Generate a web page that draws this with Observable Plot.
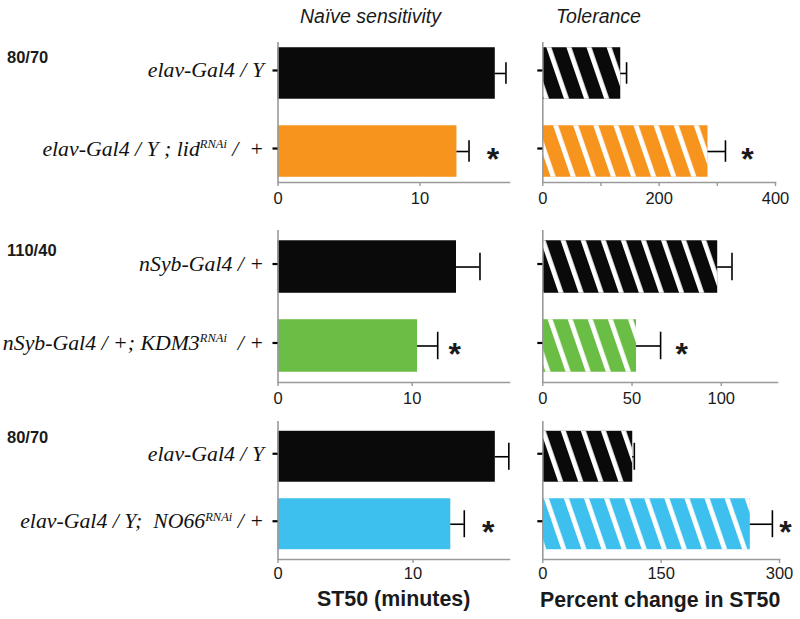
<!DOCTYPE html>
<html>
<head>
<meta charset="utf-8">
<script src="https://cdn.jsdelivr.net/npm/d3@7"></script>
<script src="https://cdn.jsdelivr.net/npm/@observablehq/plot@0.6"></script>
<style>
  html, body { margin: 0; padding: 0; background: #fff; }
  #wrap { position: relative; width: 800px; height: 619px; background: #fff; overflow: hidden; font-family: "Liberation Sans", Arial, sans-serif; }
  #wrap > svg.plotcell { position: absolute; }
  #overlay { position: absolute; left: 0; top: 0; pointer-events: none; }
</style>
</head>
<body>
<div id="wrap"></div>
<script>
// ---------------- DATA ----------------
// superscript parts are written in [brackets]
const genotypesA = ["elav-Gal4 / Y", "elav-Gal4 / Y ; lid[RNAi] /\u00a0 +"];
const genotypesB = ["nSyb-Gal4 / +", "nSyb-Gal4 / +; KDM3[RNAi] \u00a0/ +"];
const genotypesC = ["elav-Gal4 / Y", "elav-Gal4 / Y;\u00a0 NO66[RNAi] / +"];

const colorsA = ["#0a0a0a", "#f7941d"];
const colorsB = ["#0a0a0a", "#6abd45"];
const colorsC = ["#0a0a0a", "#3dc0ee"];

const sigA = [false, true];
const sigB = [false, true];
const sigC = [false, true];

// Naive sensitivity: ST50 (minutes)
const naiveA = [15.3, 12.6];   const naiveErrA = [0.75, 0.85];
const naiveB = [13.3, 10.4];   const naiveErrB = [1.75, 1.5];
const naiveC = [16.1, 12.8];   const naiveErrC = [1.0, 1.0];

// Tolerance: percent change in ST50
const tolA = [134, 284];       const tolErrA = [10, 30];
const tolB = [98, 52.5];       const tolErrB = [8, 13.5];
const tolC = [114, 263];       const tolErrC = [2, 28];

// axis settings
const naiveMax = [16.3, 17.25, 17.15];
const naiveTicks = [[0, 10], [0, 10], [0, 10]];
const tolMax = [400, 131.5, 300];
const tolTicks = [[0, 100, 200, 300, 400], [0, 50, 100], [0, 150, 300]];
const tolTickLabels = [[0, 200, 400], [0, 50, 100], [0, 150, 300]];

const rowLabels = ["80/70", "110/40", "80/70"];
const columnTitles = ["Naïve sensitivity", "Tolerance"];
const axisTitles = ["ST50 (minutes)", "Percent change in ST50"];

// ---------------- LAYOUT ----------------
const rows = [
  {top: 0,   mT: 42, frameBottom: 182, pInner: 0.34,  pOuter: 0.067, cap: 15,   tickPad: 5.5},
  {top: 210, mT: 20, frameBottom: 172, pInner: 0.335, pOuter: 0.13,  cap: 12.5, tickPad: 6},
  {top: 400, mT: 21, frameBottom: 159, pInner: 0.245, pOuter: 0.145, cap: 12,   tickPad: 3.5}
];
const mB = 30;
const wrap = document.getElementById("wrap");
const NS = "http://www.w3.org/2000/svg";

function supify(svg) {
  svg.querySelectorAll('g[aria-label="y-axis tick label"] text').forEach(t => {
    const s = t.textContent;
    if (!s.includes("[")) return;
    t.textContent = "";
    const parts = s.split(/(\[[^\]]*\])/).filter(p => p);
    let raised = false;
    parts.forEach(p => {
      const ts = document.createElementNS(NS, "tspan");
      if (p.startsWith("[")) {
        ts.textContent = p.slice(1, -1);
        ts.setAttribute("font-size", "12.5");
        ts.setAttribute("dy", "-7.5");
        raised = true;
      } else {
        ts.textContent = p;
        if (raised) { ts.setAttribute("dy", "7.5"); raised = false; }
      }
      t.appendChild(ts);
    });
  });
}

function addHatch(svg, id) {
  const defs = document.createElementNS(NS, "defs");
  defs.innerHTML = `<pattern id="${id}" patternUnits="userSpaceOnUse" width="19" height="40" patternTransform="rotate(-19)">
      <rect x="0" y="0" width="4.8" height="40" fill="#fff"/>
    </pattern>`;
  svg.insertBefore(defs, svg.firstChild);
}

function panel({labels, values, errors, colors, sig, max, ticks, tickLabels, row, left, width, mL, mR, hatch, showLabels, starDx}) {
  const r = rows[row];
  const data = labels.map((g, i) => ({g, v: values[i], e: errors[i], c: colors[i], s: sig[i]}));
  const height = r.frameBottom + mB;
  const marks = [
    Plot.barX(data, {x: "v", y: "g", fill: "c"}),
    hatch ? Plot.barX(data, {x: "v", y: "g", fill: `url(#${hatch})`}) : null,
    Plot.ruleY(data, {x1: "v", x2: d => d.v + d.e, y: "g", stroke: "#000", strokeWidth: 1.6}),
    Plot.tickX(data, {x: d => d.v + d.e, y: "g", stroke: "#000", strokeWidth: 1.6, insetTop: r.cap, insetBottom: r.cap}),
    Plot.text(data.filter(d => d.s), {x: d => d.v + d.e, y: "g", text: () => "*", dx: starDx, dy: 8.5,
      fontSize: 32, fontWeight: "bold", fill: "#1a1a1a", textAnchor: "middle"}),
    Plot.ruleX([0], {stroke: "#9a9a9a", strokeWidth: 1.6}),
    Plot.frame({anchor: "bottom", stroke: "#9a9a9a", strokeWidth: 1.6}),
    Plot.axisX({ticks, tickFormat: d => tickLabels.includes(d) ? String(d) : "", tickSize: 4,
      tickPadding: r.tickPad, stroke: "#9a9a9a", strokeWidth: 1.4, color: "#1a1a1a", fontSize: 16.5, label: null}),
    Plot.axisY({tickSize: 5, tickPadding: 9, stroke: "#000", strokeWidth: 2.2, color: "#111", label: null,
      tickFormat: showLabels ? (d => d) : (() => ""), fontSize: 21.8, fontFamily: "'Liberation Serif', 'Times New Roman', serif",
      fontStyle: "italic", dy: -3})
  ].filter(Boolean);
  const svg = Plot.plot({
    width, height,
    marginLeft: mL, marginRight: mR, marginTop: r.mT, marginBottom: mB,
    x: {domain: [0, max]},
    y: {domain: labels, paddingInner: r.pInner, paddingOuter: r.pOuter, round: false},
    color: {type: "identity"},
    style: {background: "none", overflow: "visible", fontFamily: "'Liberation Sans', Arial, sans-serif"},
    marks
  });
  svg.classList.add("plotcell");
  svg.style.left = left + "px";
  svg.style.top = r.top + "px";
  if (hatch) addHatch(svg, hatch);
  if (showLabels) supify(svg);
  wrap.appendChild(svg);
}

const genos = [genotypesA, genotypesB, genotypesC];
const colors = [colorsA, colorsB, colorsC];
const sigs = [sigA, sigB, sigC];
const naive = [naiveA, naiveB, naiveC];
const naiveErr = [naiveErrA, naiveErrB, naiveErrC];
const tol = [tolA, tolB, tolC];
const tolErr = [tolErrA, tolErrB, tolErrC];
const naiveStarDx = [24, 17, 24];
const tolStarDx = [22, 21, 13];
const tolMR = [25, 23, 21];

for (let i = 0; i < 3; i++) {
  panel({labels: genos[i], values: naive[i], errors: naiveErr[i], colors: colors[i], sig: sigs[i],
    max: naiveMax[i], ticks: naiveTicks[i], tickLabels: naiveTicks[i], row: i,
    left: 0, width: 520, mL: 277.5, mR: 11, hatch: null, showLabels: true, starDx: naiveStarDx[i]});
  panel({labels: genos[i], values: tol[i], errors: tolErr[i], colors: colors[i], sig: sigs[i],
    max: tolMax[i], ticks: tolTicks[i], tickLabels: tolTickLabels[i], row: i,
    left: 530, width: 270, mL: 12.3, mR: tolMR[i], hatch: "hatch" + i, showLabels: false, starDx: tolStarDx[i]});
}

// ---------------- TEXT OVERLAY ----------------
const ov = document.createElementNS(NS, "svg");
ov.setAttribute("id", "overlay");
ov.setAttribute("width", 800);
ov.setAttribute("height", 619);
const texts = [
  {t: columnTitles[0], x: 300, y: 22.5, size: 19.5, style: "italic", weight: "normal"},
  {t: columnTitles[1], x: 556, y: 22.5, size: 19.5, style: "italic", weight: "normal"},
  {t: rowLabels[0], x: 7, y: 62.5, size: 16.5, style: "normal", weight: "bold"},
  {t: rowLabels[1], x: 7, y: 256, size: 16.5, style: "normal", weight: "bold"},
  {t: rowLabels[2], x: 7, y: 443, size: 16.5, style: "normal", weight: "bold"},
  {t: axisTitles[0], x: 317, y: 606, size: 21.4, style: "normal", weight: "bold"},
  {t: axisTitles[1], x: 540, y: 607, size: 21.3, style: "normal", weight: "bold"}
];
texts.forEach(d => {
  const el = document.createElementNS(NS, "text");
  el.setAttribute("x", d.x);
  el.setAttribute("y", d.y);
  el.setAttribute("font-size", d.size);
  el.setAttribute("font-style", d.style);
  el.setAttribute("font-weight", d.weight);
  el.setAttribute("font-family", "'Liberation Sans', Arial, sans-serif");
  el.setAttribute("fill", "#1a1a1a");
  el.textContent = d.t;
  ov.appendChild(el);
});
wrap.appendChild(ov);
</script>
</body>
</html>
